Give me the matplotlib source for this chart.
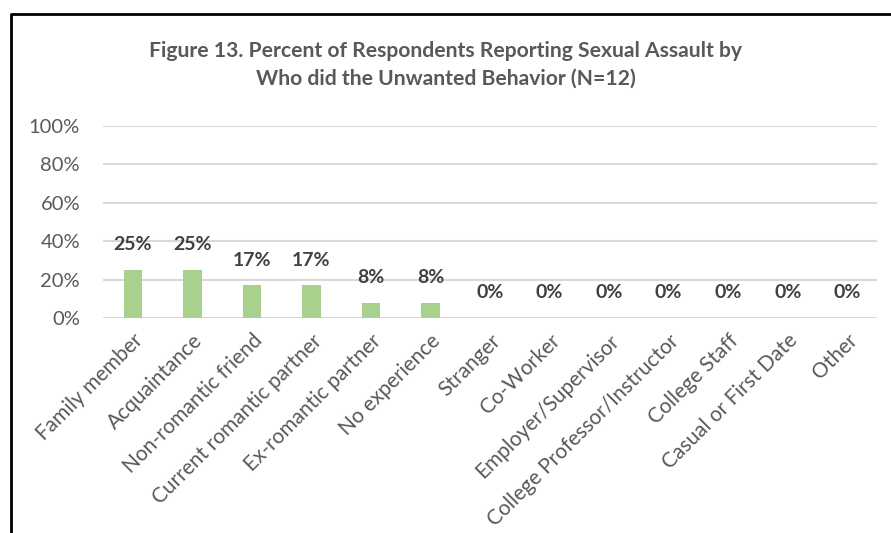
import numpy as np
import matplotlib
matplotlib.use('Agg')
import matplotlib.pyplot as plt
from matplotlib.lines import Line2D

categories = ['Family member', 'Acquaintance', 'Non-romantic friend',
              'Current romantic partner', 'Ex-romantic partner', 'No experience',
              'Stranger', 'Co-Worker', 'Employer/Supervisor',
              'College Professor/Instructor', 'College Staff',
              'Casual or First Date', 'Other']
percents = [25, 25, 17, 17, 8, 8, 0, 0, 0, 0, 0, 0, 0]
yticks = [0, 20, 40, 60, 80, 100]

plt.rcParams['font.family'] = ['Lato', 'DejaVu Sans']

fig = plt.figure(figsize=(8.91, 5.33), dpi=100)
ax = fig.add_axes([103/891, 1 - 318/533, 774/891, 192/533])

x = np.arange(len(categories))
ax.bar(x, percents, width=0.31, color='#A9D18E', zorder=3)

for xi, v in zip(x, percents):
    ax.annotate(f'{v}%', (xi, v), xytext=(0, 12), textcoords='offset points',
                ha='center', va='bottom', fontsize=14, fontweight='bold',
                color='#404040')

ax.set_xlim(-0.5, len(categories) - 0.5)
ax.set_ylim(0, 100)
ax.set_yticks(yticks)
ax.set_yticklabels([f'{t}%' for t in yticks], fontsize=14.5, color='#595959')
ax.set_xticks(x)
ax.set_xticklabels(categories, rotation=45, ha='right', rotation_mode='anchor',
                   fontsize=15, color='#595959')
ax.tick_params(axis='both', length=0)
ax.tick_params(axis='x', pad=9)
ax.tick_params(axis='y', pad=16.5)
ax.grid(axis='y', color='#D9D9D9', linewidth=1.5, zorder=0)
for s in ax.spines.values():
    s.set_visible(False)

fig.text(0.5, 1 - 64.5/533, 'Figure 13. Percent of Respondents Reporting Sexual Assault by\nWho did the Unwanted Behavior (N=12)',
         ha='center', va='center', fontsize=15.2, fontweight='bold',
         color='#595959', linespacing=1.48)

# chart frame (cropped at right and bottom)
fx = 11/891
fy = 1 - 14/533
fig.add_artist(Line2D([fx, fx, 1], [0, fy, fy], transform=fig.transFigure,
                      color='black', linewidth=2))

fig.savefig('out.png', dpi=100)
